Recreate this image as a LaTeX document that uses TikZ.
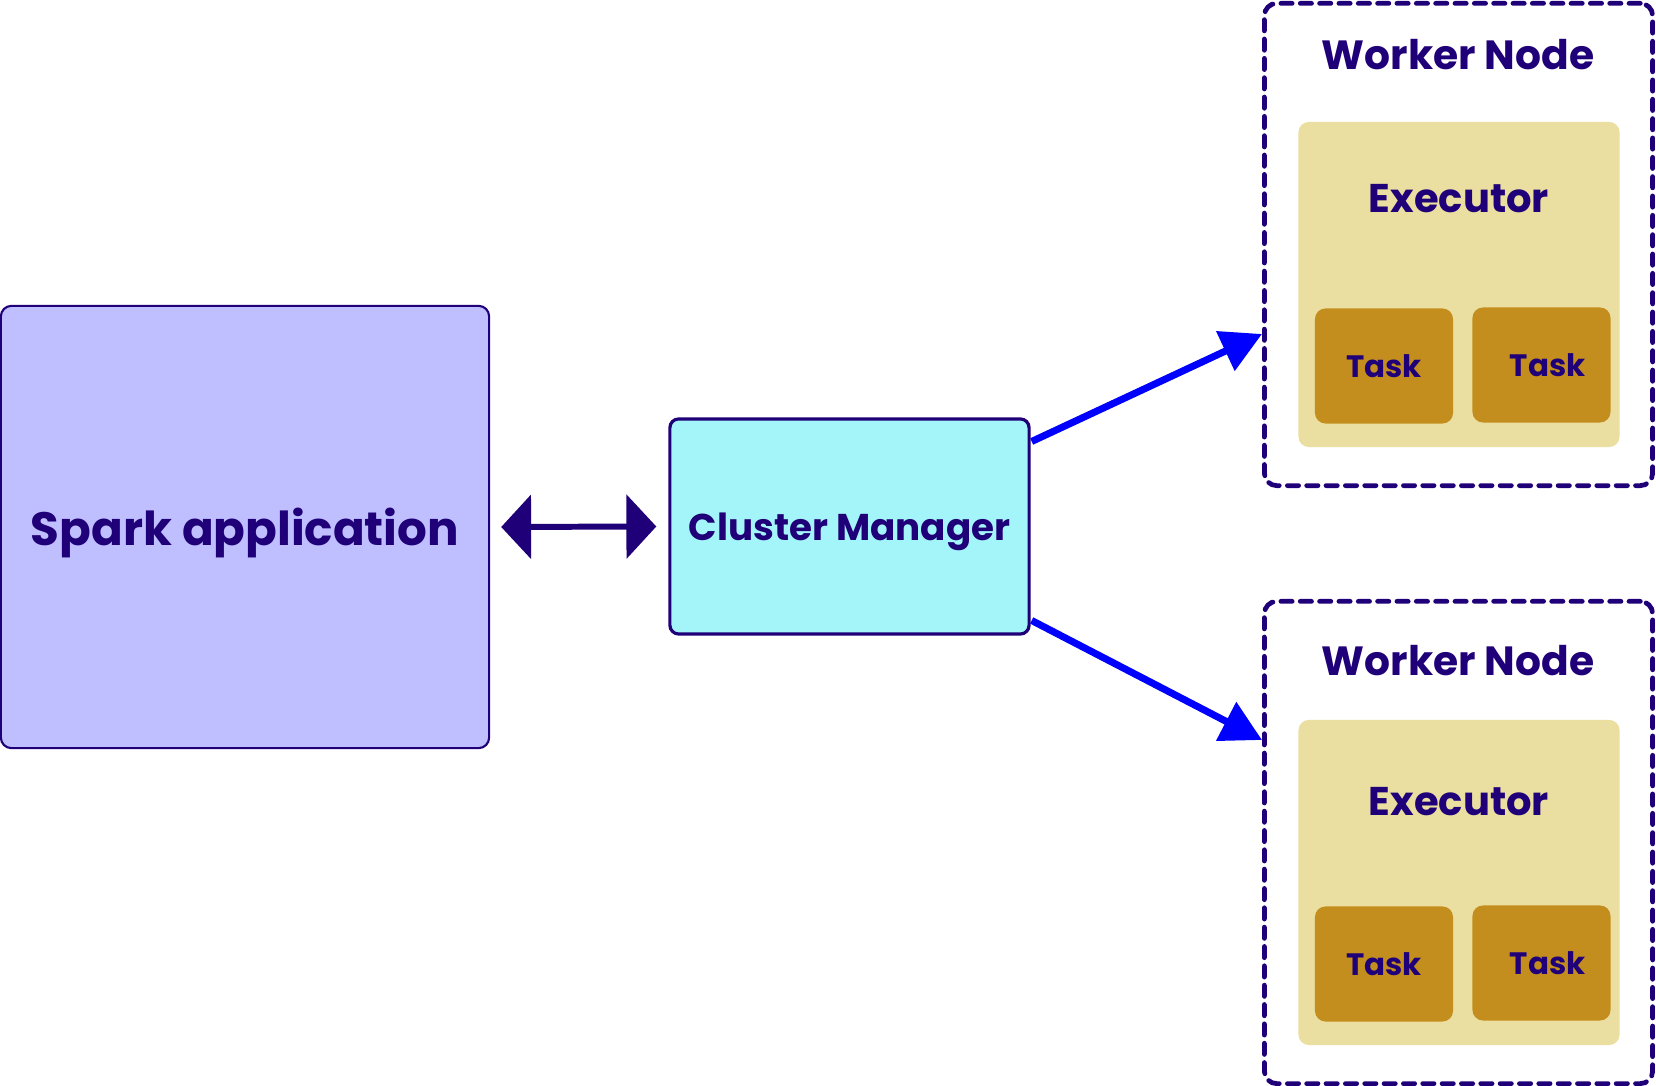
\documentclass[tikz,border=0pt]{standalone}
\usepackage{fontspec}
\setmainfont{Poppins}
\usetikzlibrary{arrows.meta}
\usetikzlibrary{calc}
\usepackage{xcolor}

\definecolor{ink}{HTML}{1F0078}
\definecolor{appfill}{HTML}{BFBFFF}
\definecolor{cmfill}{HTML}{A4F5FA}
\definecolor{execfill}{HTML}{EADFA0}
\definecolor{taskfill}{HTML}{C48E1E}
\definecolor{flowblue}{HTML}{0000FF}

\begin{document}
\begin{tikzpicture} [x=0.01cm, y=-0.01cm, font=\bfseries, text=ink,
  appbox/.style={draw=ink, line width=0.6pt, fill=appfill, rounded corners=3pt, inner sep=0pt, text depth=0pt, minimum width=4.88cm, minimum height=4.42cm},
  cmbox/.style={draw=ink, line width=0.9pt, fill=cmfill, rounded corners=2.5pt, inner sep=0pt, text depth=0pt, minimum width=3.59cm, minimum height=2.15cm},
  workerbox/.style={draw=ink, line width=1.35pt, dash pattern=on 3.2pt off 2.3pt, line cap=round, rounded corners=3.5pt, minimum width=3.88cm, minimum height=4.82cm},
  execbox/.style={fill=execfill, rounded corners=3pt, minimum width=3.21cm, minimum height=3.25cm},
  taskbox/.style={fill=taskfill, rounded corners=3pt, inner sep=0pt, minimum width=1.38cm, minimum height=1.15cm, font=\bfseries\fontsize{8.8}{10}\selectfont},
  flow/.style={flowblue, line width=2pt, -{Triangle[length=11.5pt, width=12pt]}},
  link/.style={ink, line width=1.7pt, {Triangle[length=8.5pt, width=18pt]}-{Triangle[length=8.5pt, width=18pt]}}]
\useasboundingbox (0,0) rectangle (1656,1086);

\node[appbox, font=\bfseries\fontsize{13.3}{16}\selectfont] (app) at (245,527) {Spark application};
\node[cmbox, font=\bfseries\fontsize{10.6}{13}\selectfont] (cm) at (849.5,526.5) {Cluster Manager};

% the two worker nodes, same layout shifted down
\foreach \i/\dy/\ty/\ey in {1/0/0/0, 2/598/606/603} {
 \node[workerbox] (wn\i) at (1458.5,244.5+\dy) {};
 \node[font=\bfseries\fontsize{11.6}{14}\selectfont] (wt\i) at (1458,55+\ty) {Worker Node};
 \node[execbox] (ex\i) at (1459,284.5+\dy) {};
 \node[font=\bfseries\fontsize{11.4}{14}\selectfont] (et\i) at (1459,199+\ey) {Executor};
 \node[taskbox] (ta\i) at (1384,366+\dy) {Task};
 \node[taskbox] (tb\i) at (1541.5,365+\dy) {\hspace{3.5pt}Task};
}

\draw[link] ($(app.east)+(11,0)$) -- ($(cm.west)+(-12,0)$);
\draw[flow] ($(cm.east)+(1,-85)$) -- ($(wn1.west)+(0,89.5)$);
\draw[flow] ($(cm.east)+(1,94)$) -- ($(wn2.west)+(0,-102.5)$);
\end{tikzpicture}
\end{document}
